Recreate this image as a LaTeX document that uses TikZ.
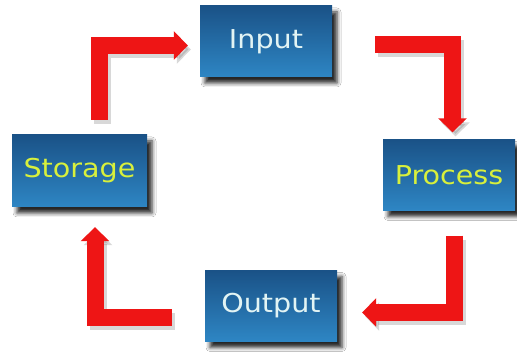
\documentclass[tikz,border=0pt]{standalone}
\usepackage{fontspec}
\setmainfont{DejaVu Sans}[FakeStretch=1.1]
\usetikzlibrary{arrows.meta,shadows.blur}
\definecolor{boxtop}{HTML}{1A5287}
\definecolor{boxbot}{HTML}{2E86C4}
\definecolor{lighttxt}{HTML}{E2F4F4}
\definecolor{greentxt}{HTML}{D8F03C}
\definecolor{arrred}{HTML}{EE1515}
\begin{document}
\begin{tikzpicture}[x=1pt,y=1pt,
  box/.style={rectangle, draw=none, top color=boxtop, bottom color=boxbot,
    minimum width=132pt, minimum height=71pt, inner sep=0pt,
    font=\fontsize{26}{30}\selectfont,
    blur shadow={shadow xshift=5pt, shadow yshift=-6pt, shadow blur radius=4pt, shadow opacity=85}},
  redarrow/.style={draw=arrred, line width=17pt, line join=miter,
    -{Triangle[width=28pt,length=14pt]}, fill=none},
  arrshadow/.style={redarrow, draw=black!60, opacity=0.25,
    transform canvas={shift={(3pt,-4pt)}}}
]
\path[fill=white] (0,0) rectangle (517,355);
\useasboundingbox (0,0) rectangle (517,355);

\node[box, text=lighttxt] (input) at (266,313.5) {Input};
\node[box, text=greentxt] (process) at (449,180) {Process};
\node[box, text=greentxt, minimum width=135pt, minimum height=72pt] (storage) at (79.5,184) {Storage};
\node[box, text=lighttxt] (output) at (271,49) {Output};

\foreach \s in {arrshadow,redarrow}{
  \draw[\s] ([shift={(19.5,15)}]storage.north) |- ([shift={(-12,-4)}]input.west);
  \draw[\s] ([shift={(43,-3)}]input.east) -| ([shift={(3.5,7)}]process.north);
  \draw[\s] ([shift={(5,-25)}]process.south) |- ([shift={(25,-6.5)}]output.east);
  \draw[\s] ([shift={(-33,-11.5)}]output.west) -| ([shift={(15.5,-20)}]storage.south);
}
\end{tikzpicture}
\end{document}
